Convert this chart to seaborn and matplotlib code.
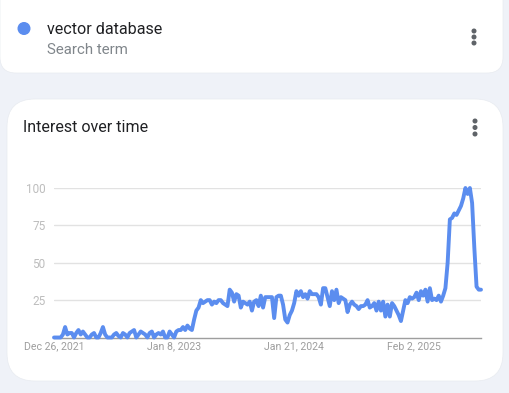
import numpy as np
import pandas as pd
import matplotlib
matplotlib.use("Agg")
import matplotlib.pyplot as plt
from matplotlib.patches import FancyBboxPatch, Circle
import seaborn as sns

# ---- data ----
search_term = "vector database"
start_date = "2021-12-26"
interest = [
    0, 0, 0, 0, 2, 7, 2, 3, 3, 0,
    3, 5, 2, 4, 2, 0, 0, 2, 3, 0,
    0, 3, 7, 2, 0, 0, 0, 2, 3, 1,
    0, 3, 2, 0, 3, 4, 5, 0, 2, 4,
    3, 2, 0, 3, 4, 0, 2, 3, 2, 4,
    0, 0, 4, 2, 0, 4, 5, 5, 7, 5,
    8, 6, 5, 12, 18, 20, 25, 23, 24, 25,
    25, 22, 24, 23, 25, 25, 23, 22, 21, 32,
    30, 24, 29, 28, 20, 24, 23, 22, 24, 18,
    24, 25, 21, 28, 20, 27, 27, 27, 27, 13,
    27, 28, 28, 22, 12, 10, 15, 18, 23, 31,
    28, 31, 27, 29, 26, 31, 29, 29, 29, 27,
    22, 33, 33, 27, 21, 31, 25, 32, 23, 27,
    26, 25, 17, 22, 24, 22, 21, 19, 21, 21,
    22, 25, 20, 21, 23, 18, 24, 18, 24, 14,
    22, 14, 23, 21, 18, 15, 11, 18, 25, 23,
    27, 26, 27, 30, 25, 31, 28, 32, 24, 33,
    25, 26, 25, 28, 24, 28, 33, 50, 79, 80,
    83, 82, 85, 88, 93, 100, 96, 100, 90, 60,
    34, 32, 32,
]
tick_labels = ["Dec 26, 2021", "Jan 8, 2023", "Jan 21, 2024", "Feb 2, 2025"]
tick_weeks = [0, 54, 108, 162]
y_ticks = [25, 50, 75, 100]

dates = pd.date_range(start_date, periods=len(interest), freq="7D")
df = pd.DataFrame({"date": dates, "interest": interest})

# ---- styling ----
sns.set_style("white")
plt.rcParams["font.family"] = ["Roboto", "DejaVu Sans"]

W, H = 509, 393
fig = plt.figure(figsize=(W / 100, H / 100), dpi=100)
bg = "#eff2f8"
fig.patch.set_facecolor(bg)

# background layer in pixel coordinates
bgax = fig.add_axes([0, 0, 1, 1], zorder=0)
bgax.set_xlim(0, W)
bgax.set_ylim(H, 0)
bgax.axis("off")
bgax.set_facecolor(bg)

bgax.add_patch(FancyBboxPatch((0, -20), 503, 93, boxstyle="round,pad=0,rounding_size=16",
                              fc="white", ec="#e8ebf0", lw=0.5))
bgax.add_patch(FancyBboxPatch((7, 99), 496, 282, boxstyle="round,pad=0,rounding_size=28",
                              fc="white", ec="#e8ebf0", lw=0.5))

line_color = "#5b8def"
bgax.add_patch(Circle((24, 28.5), 5.8, color=line_color))
bgax.text(47, 29, search_term, fontsize=11.6, color="#202124", va="center", ha="left")
bgax.text(47, 50, "Search term", fontsize=10.8, color="#80868b", va="center", ha="left")
bgax.text(23, 128, "Interest over time", fontsize=11.5, color="#202124", va="center", ha="left")

for cx, ys in [(474, (31, 37, 43)), (475, (121, 127.5, 134))]:
    for yy in ys:
        bgax.add_patch(Circle((cx, yy), 1.8, color="#5f6368"))

# ---- chart ----
x0, x1 = 54, 481
ytop, ybot = 188, 337.5
ax = fig.add_axes([x0 / W, (H - ybot) / H, (x1 - x0) / W, (ybot - ytop) / H], zorder=1)
ax.set_facecolor("none")

sns.lineplot(data=df, x="date", y="interest", ax=ax, color=line_color,
             linewidth=2.8, clip_on=False, zorder=3)

ax.set_xlim(dates[0], dates[-1])
ax.set_ylim(0, 100)
ax.set_yticks(y_ticks)
ax.set_yticklabels([str(v) for v in y_ticks])
ax.set_xticks([dates[i] for i in tick_weeks])
ax.set_xticklabels(tick_labels)
ax.set_xlabel("")
ax.set_ylabel("")

ax.grid(axis="y", color="#e2e2e2", lw=1.0)
ax.grid(axis="x", visible=False)
for s in ["top", "right", "left"]:
    ax.spines[s].set_visible(False)
ax.spines["bottom"].set_color("#9e9e9e")
ax.spines["bottom"].set_linewidth(1.0)
ax.tick_params(axis="y", length=0, pad=6, labelsize=8.5, labelcolor="#bdbdbd")
ax.tick_params(axis="x", length=0, pad=3, labelsize=7.6, labelcolor="#9e9e9e")

fig.savefig("out.png", dpi=100, facecolor=bg)
